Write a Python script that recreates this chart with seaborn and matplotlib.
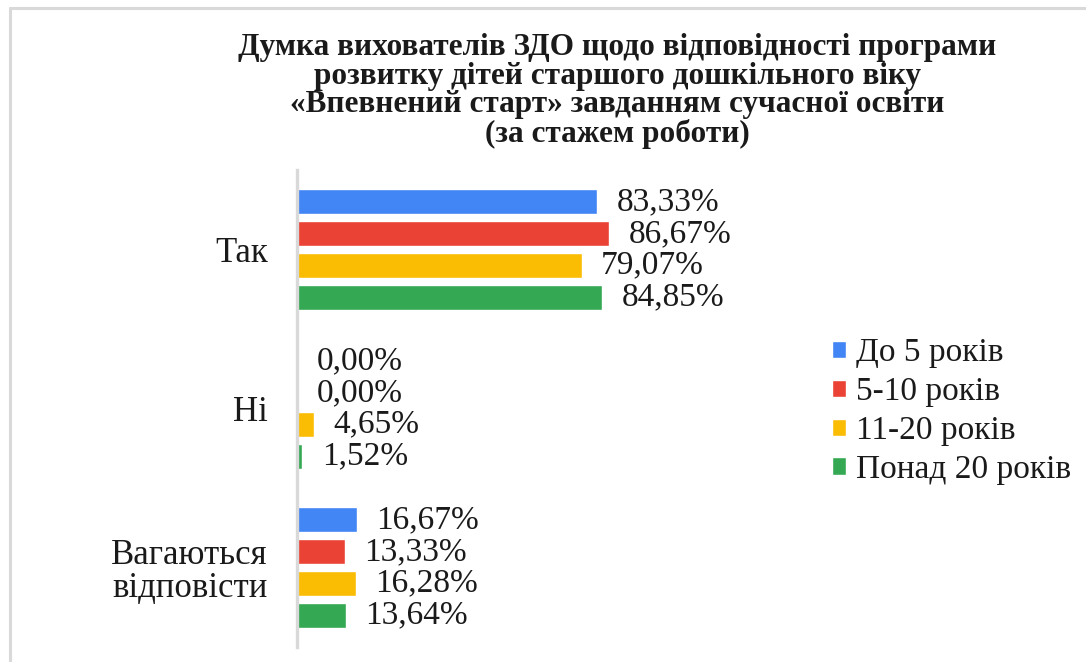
import pandas as pd
import matplotlib.pyplot as plt
import matplotlib.lines as mlines
import seaborn as sns

# data
categories = ["Так", "Ні", "Вагаються\nвідповісти"]
groups = ["До 5 років", "5-10 років", "11-20 років", "Понад 20 років"]
do_5 = [83.33, 0.00, 16.67]
r_5_10 = [86.67, 0.00, 13.33]
r_11_20 = [79.07, 4.65, 16.28]
over_20 = [84.85, 1.52, 13.64]
colors = ["#4285F4", "#EA4335", "#FBBC04", "#34A853"]

title = ("Думка вихователів ЗДО щодо відповідності програми\n"
         "розвитку дітей старшого дошкільного віку\n"
         "«Впевнений старт» завданням сучасної освіти\n"
         "(за стажем роботи)")

rows = []
for g, vals in zip(groups, [do_5, r_5_10, r_11_20, over_20]):
    for c, v in zip(categories, vals):
        rows.append({"cat": c, "group": g, "value": v})
df = pd.DataFrame(rows)

sns.set_style("white")
plt.rcParams["font.family"] = ["Liberation Serif", "DejaVu Serif"]

fig = plt.figure(figsize=(10.86, 6.62), dpi=100)
ax = fig.add_axes([297 / 1086, 1 - 647 / 662, 360 / 1086, 477 / 662])

sns.barplot(data=df, x="value", y="cat", hue="group", order=categories,
            hue_order=groups, palette=colors, orient="h", width=0.8,
            gap=0.21, saturation=1, errorbar=None, ax=ax)

# value labels
for cont in ax.containers:
    ax.bar_label(cont, labels=[f"{v:.2f}%".replace(".", ",") for v in cont.datavalues],
                 padding=14, fontsize=24, color="#1a1a1a")

ax.set_xlim(0, 100)
ax.set_ylim(2.5, -0.5)
ax.set_xlabel("")
ax.set_ylabel("")
ax.set_xticks([])
ax.tick_params(axis="y", length=0, pad=21, labelsize=25, labelcolor="#1a1a1a")
for lab in ax.get_yticklabels():
    lab.set_multialignment("center")
    lab.set_linespacing(1.0)
for s in ["top", "right", "bottom"]:
    ax.spines[s].set_visible(False)
ax.spines["left"].set_color("#d9d9d9")
ax.spines["left"].set_linewidth(2.4)

leg = ax.legend(loc="upper left", bbox_to_anchor=(832 / 1086, 1 - 338 / 662),
                bbox_transform=fig.transFigure, frameon=False, fontsize=24,
                handlelength=0.42, handleheight=0.42, handletextpad=0.3,
                labelspacing=0.25, borderaxespad=0, borderpad=0)
for t in leg.get_texts():
    t.set_color("#1a1a1a")

fig.text(617 / 1086, 1 - 33 / 662, title, ha="center", va="top",
         fontsize=22.5, fontweight="bold", linespacing=0.98, color="#1a1a1a")

# page frame
fig.add_artist(mlines.Line2D([10 / 1086, 1], [1 - 8 / 662, 1 - 8 / 662],
                             color="#d9d9d9", lw=2.2, transform=fig.transFigure))
fig.add_artist(mlines.Line2D([10 / 1086, 10 / 1086], [0, 1 - 8 / 662],
                             color="#d9d9d9", lw=2.2, transform=fig.transFigure))

fig.savefig("out.png", dpi=100)
